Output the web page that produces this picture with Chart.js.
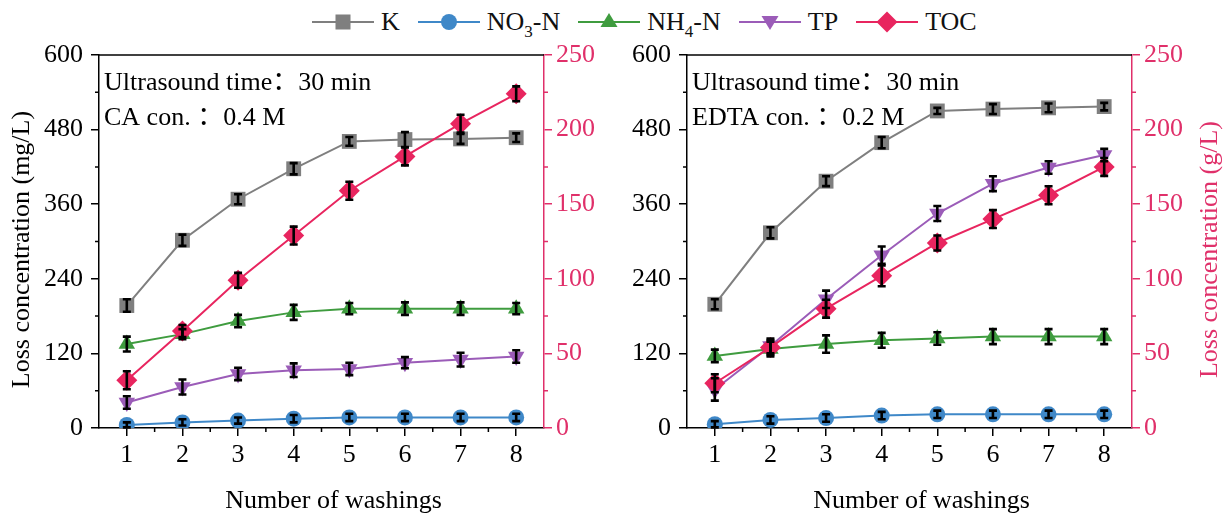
<!DOCTYPE html>
<html>
<head>
<meta charset="utf-8">
<script src="https://cdn.jsdelivr.net/npm/chart.js@4.4.1/dist/chart.umd.min.js"></script>
<style>
  body { margin: 0; background: #fff; }
  #wrap { position: relative; width: 1225px; height: 514px; overflow: hidden; font-family: "Liberation Serif", "Times New Roman", serif; }
  #chartL { position: absolute; left: 0; top: 0; }
  #chartR { position: absolute; left: 612px; top: 0; }
  #legend { position: absolute; top: 4px; left: 312px; height: 36px; display: flex; align-items: center; font-size: 26px; color: #111; white-space: nowrap; }
  .item { display: flex; align-items: center; margin-right: 18px; }
  .item svg { margin-right: 7px; }
  sub { font-size: 17px; vertical-align: -7px; line-height: 0; }
</style>
</head>
<body>
<div id="wrap">
  <div id="legend"></div>
  <canvas id="chartL" width="612" height="514"></canvas>
  <canvas id="chartR" width="613" height="514"></canvas>
</div>
<script>
const FONT = '"Liberation Serif", "Times New Roman", serif';
const NOTE_FONT = '26px "Liberation Serif", "Noto Sans CJK SC", serif';
const PINK = '#e0306a';

// x: number of washings
const washings = [1, 2, 3, 4, 5, 6, 7, 8];

// citric acid washing (mg/L, TOC in g/L)
const caK   = [197, 302, 368, 417, 461, 464, 465, 467];
const caNO3 = [5, 9, 12, 15, 17, 17, 17, 17];
const caNH4 = [135, 151, 172, 186, 192, 192, 192, 192];
const caTP  = [41, 66, 87, 93, 95, 105, 110, 115];
const caTOC = [32, 65, 99, 129, 159, 182, 204, 224];

const caKErr   = [10, 9, 8, 9, 7, 12, 8, 7];
const caNO3Err = [4, 5, 5, 6, 6, 6, 6, 6];
const caNH4Err = [12, 8, 10, 12, 9, 10, 10, 9];
const caTPErr  = [10, 12, 10, 11, 10, 9, 11, 10];
const caTOCErr = [6, 4, 5, 6, 6, 6, 6, 5];

// EDTA washing
const edK   = [199, 314, 397, 459, 510, 513, 515, 517];
const edNO3 = [6, 13, 16, 20, 22, 22, 22, 22];
const edNH4 = [116, 127, 135, 141, 144, 147, 147, 147];
const edTP  = [62, 132, 207, 278, 345, 393, 419, 439];
const edTOC = [30, 54, 80, 102, 124, 140, 156, 175];

const edKErr   = [8, 9, 8, 9, 5, 8, 7, 6];
const edNO3Err = [5, 6, 6, 6, 6, 6, 6, 6];
const edNH4Err = [10, 12, 14, 12, 10, 12, 12, 12];
const edTPErr  = [18, 12, 14, 14, 12, 12, 10, 10];
const edTOCErr = [6, 5, 6, 7, 5, 6, 6, 6];

const seriesNames = ['K', 'NO3-N', 'NH4-N', 'TP', 'TOC'];
const seriesColors = ['#7f7f7f', '#3f88c8', '#3f9c3f', '#9b5cb8', '#e8255f'];
const seriesMarkers = [
  { pointStyle: 'rect', radius: 10.5, rotation: 0 },
  { pointStyle: 'circle', radius: 8, rotation: 0 },
  { pointStyle: 'triangle', radius: 9.5, rotation: 0 },
  { pointStyle: 'triangle', radius: 9.5, rotation: 180 },
  { pointStyle: 'rectRot', radius: 10.5, rotation: 0 }
];

// legend with subscripts
function markerSvg(i) {
  const c = seriesColors[i];
  let shape = '';
  if (i === 0) shape = `<rect x="23.5" y="4.5" width="15" height="15" fill="${c}"/>`;
  if (i === 1) shape = `<circle cx="31" cy="12" r="8" fill="${c}"/>`;
  if (i === 2) shape = `<polygon points="31,3 39.5,17 22.5,17" fill="${c}"/>`;
  if (i === 3) shape = `<polygon points="22.5,6 39.5,6 31,20" fill="${c}"/>`;
  if (i === 4) shape = `<polygon points="31,1.5 41.5,12 31,22.5 20.5,12" fill="${c}"/>`;
  return `<svg width="62" height="24"><line x1="0" y1="12" x2="62" y2="12" stroke="${c}" stroke-width="2"/>${shape}</svg>`;
}
document.getElementById('legend').innerHTML = seriesNames.map((n, i) =>
  `<div class="item">${markerSvg(i)}<span>${n.replace(/(\d)/, '<sub>$1</sub>')}</span></div>`
).join('');

// frame, minor ticks, notes and axis titles
const panelFrame = {
  id: 'panelFrame',
  beforeDatasetsDraw(chart, args, o) {
    const { ctx, chartArea: a } = chart;
    ctx.save();
    ctx.font = NOTE_FONT;
    ctx.fillStyle = '#000';
    ctx.textAlign = 'left';
    ctx.textBaseline = 'alphabetic';
    o.notes.forEach((t, k) => ctx.fillText(t, a.left + 5, 90 + k * 35));
    ctx.restore();
  },
  afterDraw(chart, args, o) {
    const { ctx, chartArea: a, scales } = chart;
    ctx.save();
    ctx.lineWidth = 1.5;
    ctx.strokeStyle = '#000';
    ctx.beginPath();
    ctx.moveTo(a.left, a.top);
    ctx.lineTo(a.right, a.top);
    ctx.stroke();

    // minor ticks halfway between majors
    const x = scales.x;
    ctx.beginPath();
    for (let k = 0; k < washings.length - 1; k++) {
      const px = x.getPixelForValue((washings[k] + washings[k + 1]) / 2);
      ctx.moveTo(px, a.bottom);
      ctx.lineTo(px, a.bottom + 4);
    }
    const yL = scales.yL;
    for (let k = 0; k < yL.ticks.length - 1; k++) {
      const py = yL.getPixelForValue((yL.ticks[k].value + yL.ticks[k + 1].value) / 2);
      ctx.moveTo(a.left, py);
      ctx.lineTo(a.left - 4, py);
    }
    ctx.stroke();
    const yR = scales.yR;
    ctx.strokeStyle = PINK;
    ctx.beginPath();
    for (let k = 0; k < yR.ticks.length - 1; k++) {
      const py = yR.getPixelForValue((yR.ticks[k].value + yR.ticks[k + 1].value) / 2);
      ctx.moveTo(a.right, py);
      ctx.lineTo(a.right + 4, py);
    }
    ctx.stroke();

    ctx.font = '26px ' + FONT;
    ctx.textAlign = 'center';
    ctx.textBaseline = 'middle';
    ctx.fillStyle = '#000';
    ctx.fillText('Number of washings', (a.left + a.right) / 2 + 12, 501);

    if (o.yTitle) {
      ctx.translate(o.yTitle.x, (a.top + a.bottom) / 2 + 8);
      ctx.rotate(-Math.PI / 2);
      ctx.fillStyle = o.yTitle.color;
      ctx.fillText(o.yTitle.text, 0, 0);
    }
    ctx.restore();
  }
};

// black error bars on top of the markers
const errorBars = {
  id: 'errorBars',
  afterDatasetsDraw(chart) {
    const { ctx } = chart;
    ctx.save();
    ctx.strokeStyle = '#000';
    ctx.lineWidth = 2.6;
    chart.data.datasets.forEach((ds, i) => {
      const meta = chart.getDatasetMeta(i);
      const scale = chart.scales[ds.yAxisID];
      meta.data.forEach((pt, j) => {
        const v = ds.data[j].y, e = ds.errors[j];
        const top = scale.getPixelForValue(v + e);
        const bot = scale.getPixelForValue(v - e);
        ctx.beginPath();
        ctx.moveTo(pt.x, top); ctx.lineTo(pt.x, bot);
        ctx.moveTo(pt.x - 4, top); ctx.lineTo(pt.x + 4, top);
        ctx.moveTo(pt.x - 4, bot); ctx.lineTo(pt.x + 4, bot);
        ctx.stroke();
      });
    });
    ctx.restore();
  }
};

function makeDatasets(values, errors) {
  return values.map((vals, i) => ({
    label: seriesNames[i],
    data: washings.map((w, j) => ({ x: w, y: vals[j] })),
    errors: errors[i],
    yAxisID: i === 4 ? 'yR' : 'yL',
    order: 5 - i,
    borderColor: seriesColors[i],
    backgroundColor: seriesColors[i],
    pointBackgroundColor: seriesColors[i],
    pointBorderColor: seriesColors[i],
    pointBorderWidth: 0,
    borderWidth: 2,
    pointStyle: seriesMarkers[i].pointStyle,
    pointRadius: seriesMarkers[i].radius,
    pointRotation: seriesMarkers[i].rotation,
    tension: 0
  }));
}

function makePanel(id, values, errors, notes, leftW, rightW, yTitle) {
  const tickFont = { family: FONT, size: 26 };
  return new Chart(document.getElementById(id), {
    type: 'line',
    data: { datasets: makeDatasets(values, errors) },
    options: {
      responsive: false,
      animation: false,
      layout: { padding: { top: 55 } },
      plugins: {
        legend: { display: false },
        tooltip: { enabled: false },
        panelFrame: { notes, yTitle }
      },
      scales: {
        x: {
          type: 'linear', min: 0.5, max: 8.5,
          afterBuildTicks: s => { s.ticks = washings.map(v => ({ value: v })); },
          afterFit: s => { s.height = 86; },
          grid: { drawOnChartArea: false, tickLength: 8, color: '#000', lineWidth: 1.5 },
          border: { color: '#000', width: 1.5 },
          ticks: { color: '#000', font: tickFont, padding: 4 }
        },
        yL: {
          position: 'left', min: 0, max: 600,
          afterFit: s => { s.width = leftW; },
          grid: { drawOnChartArea: false, tickLength: 8, color: '#000', lineWidth: 1.5 },
          border: { color: '#000', width: 1.5 },
          ticks: { stepSize: 120, color: '#000', font: tickFont, padding: 8 }
        },
        yR: {
          position: 'right', min: 0, max: 250,
          afterFit: s => { s.width = rightW; },
          grid: { drawOnChartArea: false, tickLength: 8, color: PINK, lineWidth: 1.5 },
          border: { color: PINK, width: 1.5 },
          ticks: { stepSize: 50, color: PINK, font: tickFont, padding: 4 }
        }
      }
    },
    plugins: [panelFrame, errorBars]
  });
}

makePanel('chartL',
  [caK, caNO3, caNH4, caTP, caTOC],
  [caKErr, caNO3Err, caNH4Err, caTPErr, caTOCErr],
  ['Ultrasound time\uFF1A30 min', 'CA con. \uFF1A0.4 M'],
  99, 68,
  { text: 'Loss concentration (mg/L)', color: '#000', x: 22 });

makePanel('chartR',
  [edK, edNO3, edNH4, edTP, edTOC],
  [edKErr, edNO3Err, edNH4Err, edTPErr, edTOCErr],
  ['Ultrasound time\uFF1A30 min', 'EDTA con. \uFF1A0.2 M'],
  75, 93,
  { text: 'Loss concentration (g/L)', color: PINK, x: 598 });
</script>
</body>
</html>
